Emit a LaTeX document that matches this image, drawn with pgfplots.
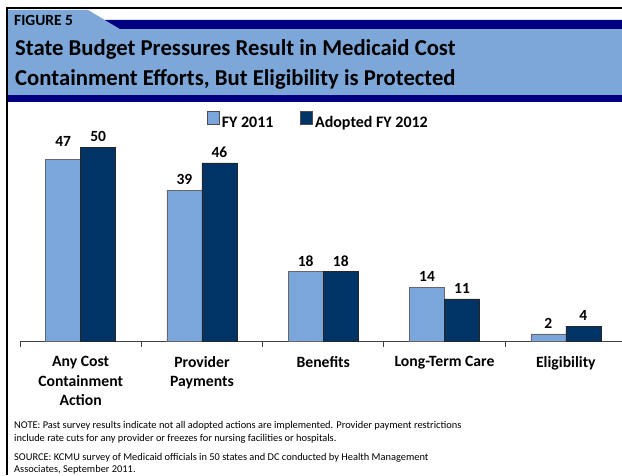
\documentclass[border=0pt]{standalone}
\usepackage{fontspec}
\setmainfont{Carlito}
\usepackage{pgfplots}
\pgfplotsset{compat=1.18}
\usepackage{pgfplotstable}
\definecolor{hdrblue}{RGB}{124,167,216}
\definecolor{hdrnavy}{RGB}{0,0,128}
\definecolor{barlight}{RGB}{123,166,220}
\definecolor{bardark}{RGB}{0,51,102}

\pgfplotstableread{
x y off
0 47 9
1 39 2
2 18 2
3 14 2
4 2 2
}\fyone
\pgfplotstableread{
x y off
0 50 2
1 46 2
2 18 2
3 11 2
4 4 2
}\fytwo

\begin{document}
\begin{tikzpicture}
\begin{scope}[x=1pt,y=1pt]
\fill[white] (0,0) rectangle (622,475);
\fill[hdrblue] (7.75,465) -- (88,465) -- (120,446) -- (622,446) -- (622,380) -- (7.75,380) -- cycle;
\fill[hdrnavy] (104.8,455) -- (622,455) -- (622,446) -- (120,446) -- cycle;
\fill[hdrnavy] (7.75,373) rectangle (622,380);
\draw[line width=1.5pt] (7,0) -- (7,467) -- (622,467);
\node[anchor=base west, inner sep=0, font=\bfseries\fontsize{15.5}{17}\selectfont] at (14,449) {FIGURE 5};
\node[anchor=base west, inner sep=0, font=\bfseries\fontsize{22.7}{27}\selectfont] at (15,419) {State Budget Pressures Result in Medicaid Cost};
\node[anchor=base west, inner sep=0, font=\bfseries\fontsize{22.7}{27}\selectfont] at (15,389) {Containment Efforts, But Eligibility is Protected};
\node[anchor=base west, inner sep=0, font=\fontsize{10.4}{12}\selectfont] at (14,47) {NOTE: Past survey results indicate not all adopted actions are implemented. Provider payment restrictions};
\node[anchor=base west, inner sep=0, font=\fontsize{10.4}{12}\selectfont] at (14,34) {include rate cuts for any provider or freezes for nursing facilities or hospitals.};
\node[anchor=base west, inner sep=0, font=\fontsize{10.4}{12}\selectfont] at (14,15) {SOURCE: KCMU survey of Medicaid officials in 50 states and DC conducted by Health Management};
\node[anchor=base west, inner sep=0, font=\fontsize{10.4}{12}\selectfont] at (14,2.5) {Associates, September 2011.};
\end{scope}

\begin{axis}[
  at={(20pt,133.3pt)}, anchor=south west,
  width=602pt, height=233.1pt, scale only axis,
  xmin=-0.5, xmax=4.463, ymin=0, ymax=60,
  ybar=0pt, bar width=35pt,
  axis x line*=bottom, axis y line=none,
  x axis line style={draw=black!75, line width=1pt},
  xtick={0,...,4},
  xticklabels={{Any Cost\\Containment\\Action},{Provider\\Payments},Benefits,Long-Term Care,Eligibility},
  major x tick style={draw=none}, major tick length=0pt,
  minor xtick={-0.5,0.5,1.5,2.5,3.5}, minor tick length=5pt, tick align=outside,
  minor x tick style={draw=black!75, line width=0.8pt},
  xticklabel style={font=\bfseries\fontsize{15.7}{19.5}\selectfont, align=center, yshift=-11pt},
  nodes near coords,
  visualization depends on={\thisrow{off}\as\myoff},
  every node near coord/.append style={font=\bfseries\fontsize{15.5}{18}\selectfont, anchor=south, yshift=\myoff pt},
  /pgf/number format/assume math mode=true,
  clip=false,
  legend style={at={(0.3106,0.9468)}, anchor=west, draw=none, fill=none, legend columns=2,
    font=\bfseries\fontsize{16}{18}\selectfont, inner sep=0pt,
    /tikz/every even column/.append style={column sep=25pt}},
  legend image code/.code={\draw[#1,draw=black!70,line width=0.6pt] (0pt,-1pt) rectangle (12pt,12pt);},
]
\addplot[fill=barlight, draw=black!60, line width=0.6pt] table[x=x,y=y]{\fyone};
\addplot[fill=bardark, draw=black!85, line width=0.6pt] table[x=x,y=y]{\fytwo};
\legend{FY 2011, Adopted FY 2012}
\end{axis}
\pgfresetboundingbox
\path (0pt,0pt) rectangle (622pt,475pt);
\end{tikzpicture}
\end{document}
